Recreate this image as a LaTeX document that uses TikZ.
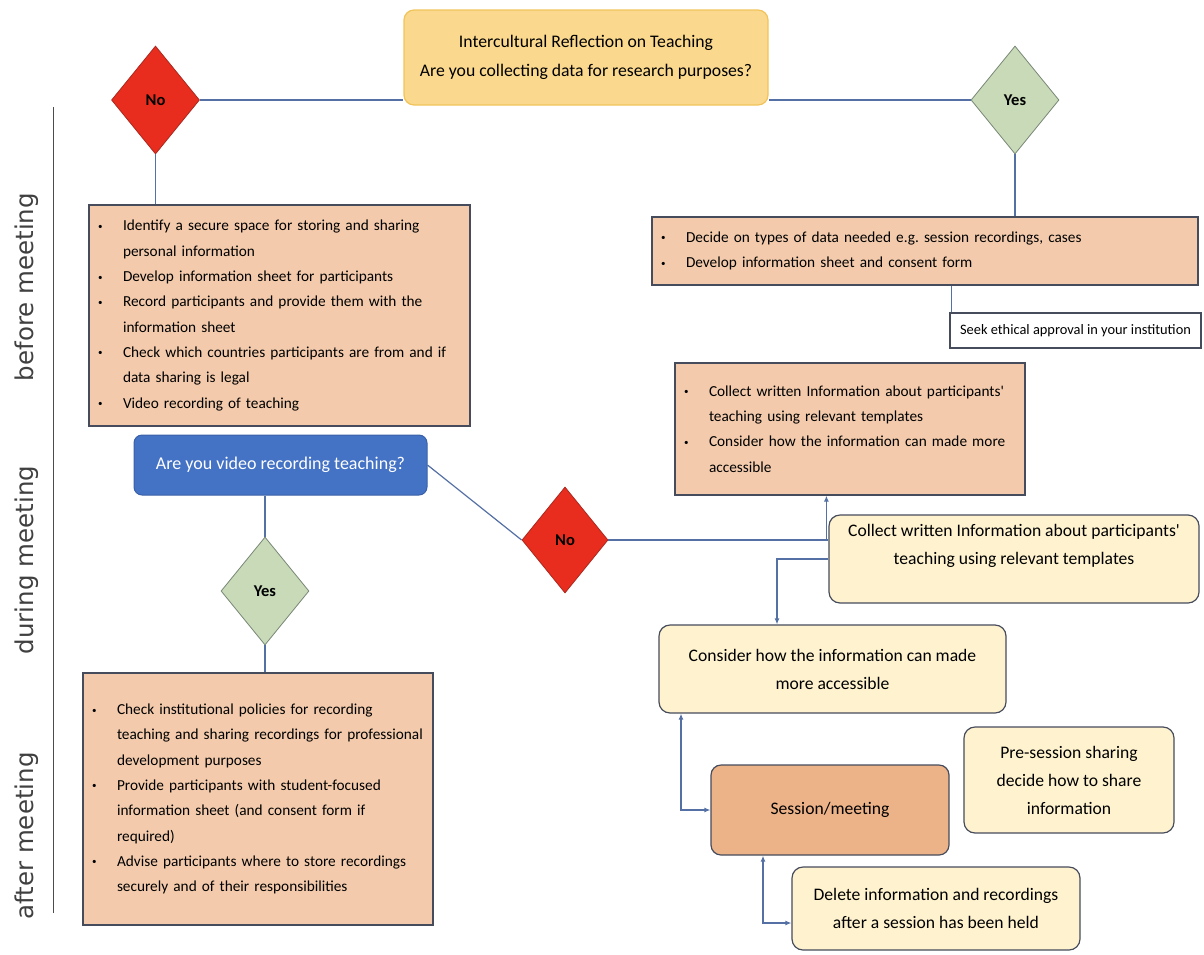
\documentclass[tikz,border=0pt]{standalone}
\usepackage{fontspec}
\setmainfont{Carlito}
\newfontfamily\lanefont{DejaVu Sans}
\usepackage{tikz}
\usetikzlibrary{shapes.geometric, arrows.meta}

\definecolor{peach}{RGB}{243,203,172}
\definecolor{sessfill}{RGB}{236,178,136}
\definecolor{cream}{RGB}{254,242,207}
\definecolor{titlefill}{RGB}{250,217,142}
\definecolor{titleline}{RGB}{240,196,90}
\definecolor{nored}{RGB}{232,45,30}
\definecolor{nodark}{RGB}{170,40,30}
\definecolor{yesgreen}{RGB}{200,218,184}
\definecolor{yesline}{RGB}{120,135,118}
\definecolor{askblue}{RGB}{68,114,196}
\definecolor{linkblue}{RGB}{84,112,165}
\definecolor{boxline}{RGB}{70,76,92}

\newcommand{\bul}{\makebox[27pt][l]{\hspace*{2pt}\raisebox{1.5pt}{\fontsize{9}{9}\selectfont\textbullet}}}
\newcommand{\ind}{\hspace*{27pt}}

\begin{document}
\begin{tikzpicture}[x=1pt, y=-1pt,
    line/.style={draw=linkblue, line width=1.2pt},
    arr/.style={line, -{Latex[length=6pt,width=5pt]}},
    twoarr/.style={line, {Latex[length=6pt,width=5pt]}-{Latex[length=6pt,width=5pt]}},
    nodia/.style={diamond, fill=nored, draw=nodark, line width=0.8pt, inner sep=0pt,
        minimum width=88pt, minimum height=108pt, font=\fontsize{16.5}{18}\selectfont\bfseries},
    yesdia/.style={diamond, fill=yesgreen, draw=yesline, line width=0.8pt, inner sep=0pt,
        minimum width=88pt, minimum height=108pt, font=\fontsize{16.5}{18}\selectfont\bfseries},
    listbox/.style={rectangle, fill=peach, draw=boxline, line width=1.2pt, inner xsep=7pt,
        align=left, font=\fontsize{15.3}{25.3}\selectfont},
    stepbox/.style={rectangle, rounded corners=11pt, fill=cream, draw=boxline, line width=1.2pt,
        align=center, font=\fontsize{17.6}{28}\selectfont},
    lane/.style={rotate=90, font=\lanefont\fontsize{24.5}{26}\selectfont, text=black!75}
]
    \useasboundingbox (0,0) rectangle (1204,954);

    \node[rectangle, rounded corners=10pt, fill=titlefill, draw=titleline, line width=1.2pt,
        minimum width=364pt, minimum height=95pt, align=center,
        font=\fontsize{17.7}{29}\selectfont] (title) at (586,57.5)
        {Intercultural Reflection on Teaching\\Are you collecting data for research purposes?};

    \node[nodia] (noTop) at (155.5,100) {No};
    \node[yesdia] (yesTop) at (1015,100) {Yes};

    \draw[line] (noTop.east) -- (noTop.east -| title.west);
    \draw[line] (title.east |- yesTop.west) -- (yesTop.west);

    % lanes
    \draw[black!70, line width=1pt] (53,107) -- (53,913);
    \node[lane] (before) at (27,287) {before meeting};
    \node[lane] (during) at (27,560) {during meeting};
    \node[lane] (after) at (27,836) {after meeting};

    \node[listbox, minimum width=381pt, minimum height=221pt, text width=367pt] (prep) at (279.5,315.5)
        {\bul Identify a secure space for storing and sharing\\
         \ind personal information\\
         \bul Develop information sheet for participants\\
         \bul Record participants and provide them with the\\
         \ind information sheet\\
         \bul Check which countries participants are from and if\\
         \ind data sharing is legal\\
         \bul Video recording of teaching};
    \draw[line] (noTop.south) -- (noTop.south |- prep.north);

    \node[listbox, minimum width=546pt, minimum height=68pt, text width=532pt] (decide) at (925,251)
        {\bul Decide on types of data needed e.g.\ session recordings, cases\\
         \bul Develop information sheet and consent form};
    \draw[line] (yesTop.south) -- (yesTop.south |- decide.north);

    \node[rectangle, fill=white, draw=boxline, line width=1.2pt, minimum width=251pt,
        minimum height=35pt, font=\fontsize{14.4}{16}\selectfont] (seek) at (1075.5,330.5)
        {Seek ethical approval in your institution};
    \draw[line] ([xshift=2pt]seek.north west) -- ([xshift=2pt]seek.north west |- decide.south);

    \node[listbox, minimum width=350pt, minimum height=132pt, text width=336pt] (written) at (850,429)
        {\bul Collect written Information about participants\textquotesingle\\
         \ind teaching using relevant templates\\
         \bul Consider how the information can made more\\
         \ind accessible};

    \node[rectangle, rounded corners=8pt, fill=askblue, draw=askblue!85!black, line width=1pt,
        minimum width=293pt, minimum height=60pt, text=white,
        font=\fontsize{18}{20}\selectfont] (video) at (280.5,465) {Are you video recording teaching?};

    \node[yesdia] (yesLow) at (265,591) {Yes};
    \node[nodia, minimum width=86pt, minimum height=106pt] (noLow) at (565,540) {No};

    \draw[line] (video.south -| yesLow.north) -- (yesLow.north);
    \draw[line] (video.east) -- (noLow.west);

    \node[listbox, minimum width=350pt, minimum height=252pt, text width=336pt] (consent) at (258,799)
        {\bul Check institutional policies for recording\\
         \ind teaching and sharing recordings for professional\\
         \ind development purposes\\
         \bul Provide participants with student-focused\\
         \ind information sheet (and consent form if\\
         \ind required)\\
         \bul Advise participants where to store recordings\\
         \ind securely and of their responsibilities};
    \draw[line] (yesLow.south) -- (yesLow.south |- consent.north);

    \node[stepbox, minimum width=370pt, minimum height=88pt, text depth=30pt] (collect) at (1014,559)
        {Collect written Information about participants\textquotesingle\\teaching using relevant templates};
    \node[stepbox, minimum width=347pt, minimum height=88pt] (consider) at (832.5,669)
        {Consider how the information can made\\more accessible};
    \node[stepbox, minimum width=210pt, minimum height=106pt] (share) at (1069,780)
        {Pre-session sharing\\decide how to share\\information};
    \node[stepbox, fill=sessfill, rounded corners=10pt, minimum width=238pt, minimum height=90pt] (session) at (830,810)
        {Session/meeting};
    \node[stepbox, minimum width=288pt, minimum height=83pt] (delete) at (936,908.5)
        {Delete information and recordings\\after a session has been held};

    \draw[line] (noLow.east) -- (noLow.east -| collect.west);
    \draw[arr] ([xshift=-2pt]noLow.east -| collect.west) -- ([xshift=-2pt]collect.west |- written.south);
    \draw[arr] (collect.west) -| ([xshift=-55.5pt]consider.north);
    \draw[twoarr] ([xshift=-151.5pt]consider.south) |- (session.west);
    \draw[twoarr] ([xshift=-67pt]session.south) |- ([yshift=-14.5pt]delete.west);
\end{tikzpicture}
\end{document}
